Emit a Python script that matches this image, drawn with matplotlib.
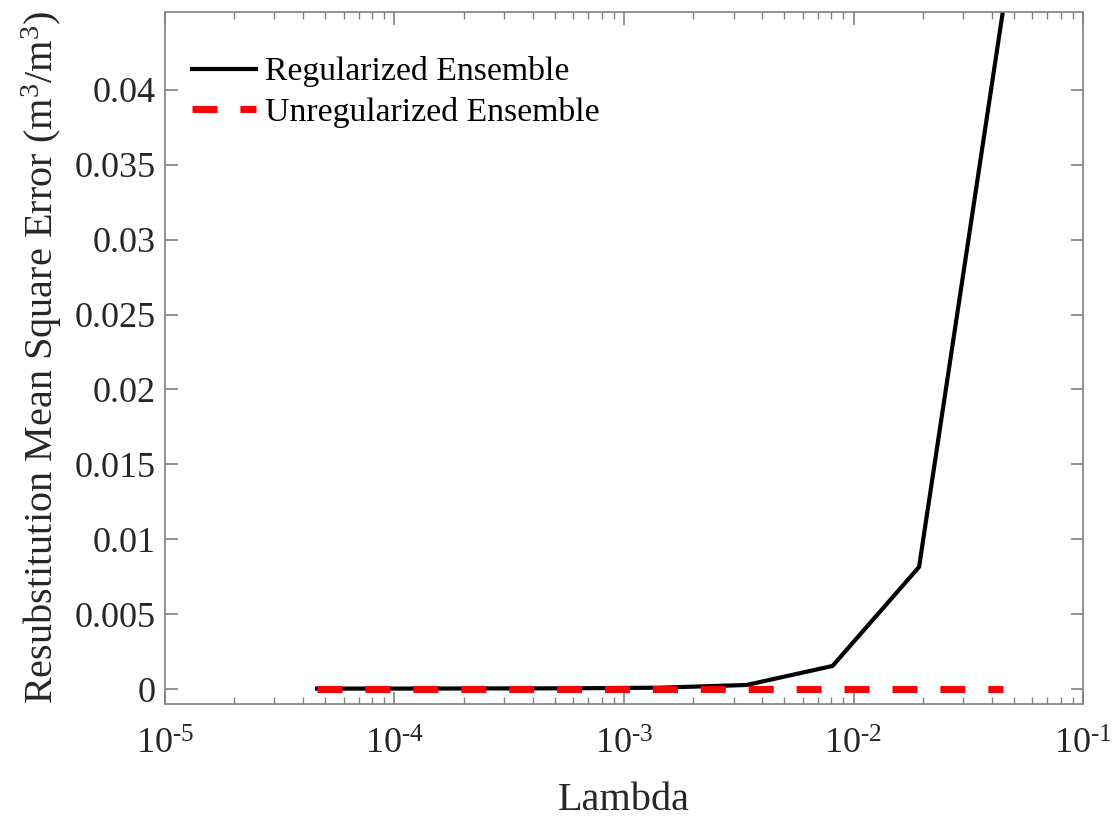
import matplotlib
matplotlib.use("Agg")
import matplotlib.pyplot as plt
import numpy as np
from matplotlib.ticker import FuncFormatter, LogLocator, NullFormatter

plt.rcParams['font.family'] = ['Liberation Serif', 'DejaVu Serif']
plt.rcParams['mathtext.fontset'] = 'custom'
plt.rcParams['mathtext.rm'] = 'Liberation Serif'
plt.rcParams['mathtext.it'] = 'Liberation Serif:italic'
plt.rcParams['axes.unicode_minus'] = False
plt.rcParams['lines.scale_dashes'] = False

# regularization strength and resubstitution MSE
lam = [4.6e-5, 1.08e-4, 2.55e-4, 6.05e-4, 1.44e-3, 3.42e-3, 8.1e-3, 1.93e-2, 4.5e-2]
mse_reg = [3e-5, 3e-5, 4e-5, 5e-5, 9e-5, 2.7e-4, 1.54e-3, 8.15e-3, 0.0455]
mse_unreg = [2e-5, 2e-5, 2e-5, 2e-5, 2e-5, 2e-5, 2e-5, 2e-5, 2e-5]

yticks = [0, 0.005, 0.01, 0.015, 0.02, 0.025, 0.03, 0.035, 0.04]

fig = plt.figure(figsize=(11.2, 8.19), dpi=100)
ax = fig.add_axes([0.1473, 0.1404, 0.967 - 0.1473, 0.9853 - 0.1404])

ax.plot(lam, mse_reg, color='black', lw=3, label='Regularized Ensemble')
ax.plot(lam, mse_unreg, color='red', lw=5, dashes=(18, 16.5),
        label='Unregularized Ensemble')

ax.set_xscale('log')
ax.set_xlim(1e-5, 1e-1)
ax.set_ylim(-0.001, 0.0452)
ax.set_yticks(yticks)
ax.yaxis.set_major_formatter(FuncFormatter(lambda v, p: '%g' % v))
ax.xaxis.set_major_locator(LogLocator(base=10, numticks=10))
ax.xaxis.set_minor_locator(LogLocator(base=10, subs=np.arange(2, 10), numticks=20))
ax.xaxis.set_minor_formatter(NullFormatter())
# 10^-n labels with a plain hyphen in the exponent
ax.xaxis.set_major_formatter(
    FuncFormatter(lambda v, p: r'$\mathregular{10^{\text{-}%d}}$' % abs(round(np.log10(v)))))

axcol = '#262626'
for s in ax.spines.values():
    s.set_color('#808080')
    s.set_linewidth(1.2)
ax.tick_params(which='both', direction='in', top=True, right=True,
               colors='#808080', labelcolor=axcol, labelsize=26)
ax.tick_params(which='major', length=9, width=1.2)
ax.tick_params(which='minor', length=5, width=1.0)
ax.tick_params(axis='x', pad=17.5, labelsize=26)
ax.tick_params(axis='y', pad=7)

ax.set_xlabel('Lambda', fontsize=29, color=axcol, labelpad=14.5)
ax.set_ylabel(r'Resubstitution Mean Square Error (m$^3$/m$^3$)', fontsize=29,
              color=axcol, labelpad=7)

leg = ax.legend(loc='upper left', frameon=False, fontsize=24.3,
                handlelength=1.9, handletextpad=0.25, labelspacing=0.29,
                borderaxespad=0.4, bbox_to_anchor=(0.0, 0.975))
for t in leg.get_texts():
    t.set_color('black')

fig.savefig('out.png', dpi=100)
